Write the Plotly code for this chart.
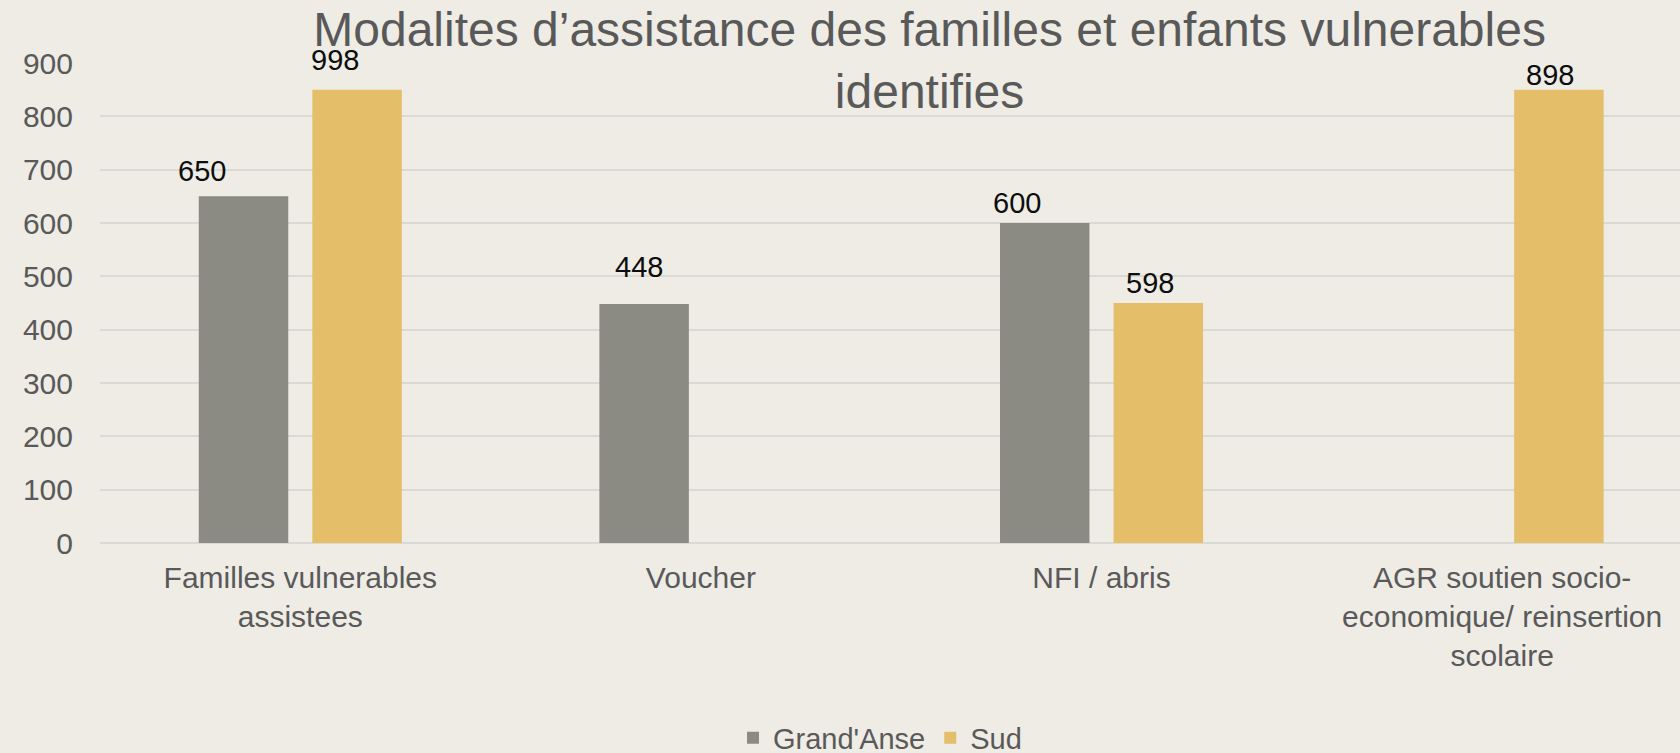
import plotly.graph_objects as go

# ---- data ----
categories = [
    "Familles vulnerables<br>assistees",
    "Voucher",
    "NFI / abris",
    "AGR soutien socio-<br>economique/ reinsertion<br>scolaire",
]
series_names = ["Grand'Anse", "Sud"]
grandanse_values = [650, 448, 600, None]
sud_values = [850, None, 450, 850]
grandanse_labels = ["650", "448", "600", ""]
sud_labels = ["998", "", "598", "898"]
y_ticks = [0, 100, 200, 300, 400, 500, 600, 700, 800, 900]

# ---- style ----
BG = "#EEECE5"
GRAY = "#8B8B84"
GOLD = "#E4BE69"
TXT = "#595959"
FONT = "Liberation Sans, Arial, sans-serif"

# label nudges (pixels) relative to bar centre / top, per series
ga_dx = [-42, -5, -28, 0]
ga_dy = [25, 37, 20, 0]
sud_dx = [-22, 0, -8, -9]
sud_dy = [30, 0, 20, 15]
GROUP_OFFSET = 56.8

fig = go.Figure()
fig.add_trace(go.Bar(name=series_names[0], x=categories, y=grandanse_values,
                     marker=dict(color=GRAY, line=dict(width=0))))
fig.add_trace(go.Bar(name=series_names[1], x=categories, y=sud_values,
                     marker=dict(color=GOLD, line=dict(width=0))))

annotations = []
for i, c in enumerate(categories):
    if grandanse_values[i] is not None and grandanse_labels[i]:
        annotations.append(dict(x=c, y=grandanse_values[i], xref="x", yref="y",
                                text=grandanse_labels[i], showarrow=False,
                                xanchor="center", yanchor="middle",
                                xshift=-GROUP_OFFSET + ga_dx[i], yshift=ga_dy[i],
                                font=dict(family=FONT, size=29, color="#0D0D0D")))
    if sud_values[i] is not None and sud_labels[i]:
        annotations.append(dict(x=c, y=sud_values[i], xref="x", yref="y",
                                text=sud_labels[i], showarrow=False,
                                xanchor="center", yanchor="middle",
                                xshift=GROUP_OFFSET + sud_dx[i], yshift=sud_dy[i],
                                font=dict(family=FONT, size=29, color="#0D0D0D")))

fig.update_layout(
    width=1680, height=753,
    paper_bgcolor=BG, plot_bgcolor=BG,
    margin=dict(l=100, r=0, t=63, b=210),
    barmode="group", bargap=0.433, bargroupgap=0.212,
    title=dict(text="Modalites d\u2019assistance des familles et enfants vulnerables<br>identifies",
               x=929.6 / 1680, xanchor="center", xref="container",
               y=1 - 46 / 753, yanchor="top", yref="container",
               font=dict(family=FONT, size=48, color=TXT)),
    legend=dict(orientation="h", x=(880 - 100) / 1580, xanchor="center",
                yref="container", y=15 / 753, yanchor="middle",
                font=dict(family=FONT, size=29, color=TXT),
                bgcolor="rgba(0,0,0,0)", itemsizing="constant"),
    annotations=annotations,
    font=dict(family=FONT, color=TXT),
)
fig.update_xaxes(type="category", range=[-0.5, 3.444], showgrid=False, showline=False,
                 ticks="", tickfont=dict(family=FONT, size=30, color=TXT),
                 ticklabelstandoff=14, zeroline=False, fixedrange=True)
fig.update_yaxes(range=[0, 900], tickvals=y_ticks, showgrid=True, gridcolor="#D9D9D6",
                 gridwidth=1.5, zeroline=True, zerolinecolor="#D9D9D6", zerolinewidth=1.5,
                 showline=False, ticks="", tickfont=dict(family=FONT, size=30, color=TXT),
                 ticklabelstandoff=26, fixedrange=True)

fig.write_html("out.html", config={"displayModeBar": False},
               post_script="document.body.style.margin='0';document.body.style.padding='0';"
                           "document.body.style.background='" + BG + "';")
